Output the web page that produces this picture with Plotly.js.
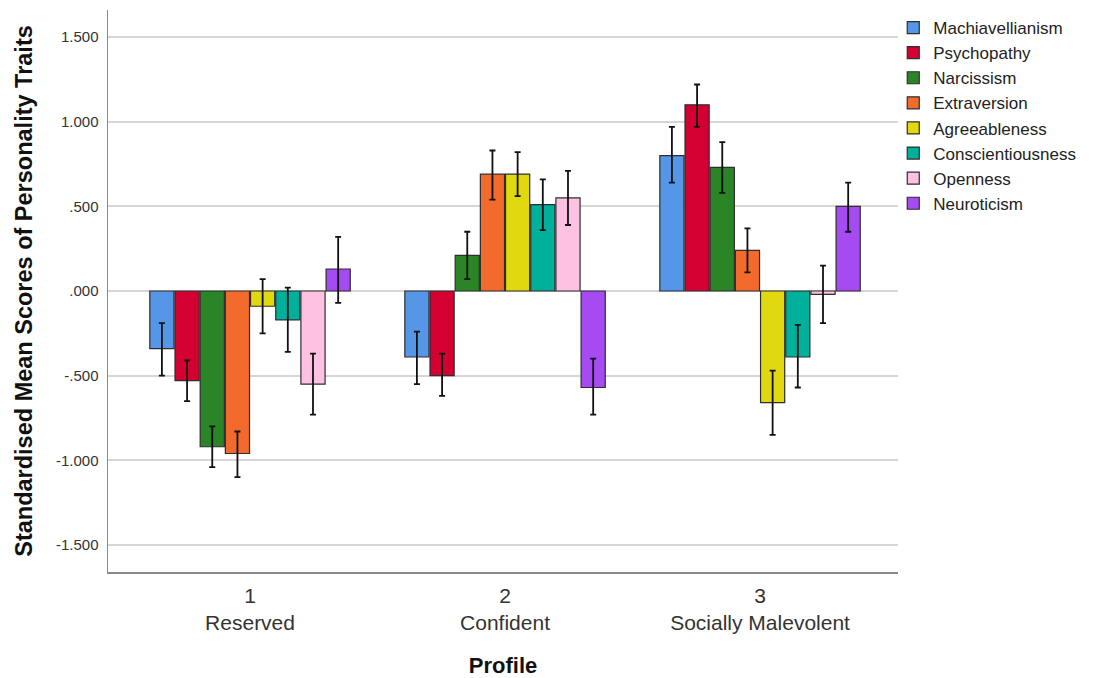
<!DOCTYPE html>
<html>
<head>
<meta charset="utf-8">
<script src="https://cdn.plot.ly/plotly-3.0.1.min.js"></script>
<style>html,body{margin:0;padding:0;background:#fff;}#chart{width:1095px;height:678px;}</style>
</head>
<body>
<div id="chart"></div>
<script>
const profiles = ['1<br>Reserved', '2<br>Confident', '3<br>Socially Malevolent'];
const traits = ['Machiavellianism','Psychopathy','Narcissism','Extraversion','Agreeableness','Conscientiousness','Openness','Neuroticism'];
const colors = ['#5596e6','#d50032','#2b8527','#f26a2c','#e2d80f','#00b09b','#ffc1e1','#a64af2'];

// mean per trait, for profiles 1,2,3
const machiavellianism  = [-0.34, -0.39,  0.80];
const psychopathy       = [-0.53, -0.50,  1.10];
const narcissism        = [-0.92,  0.21,  0.73];
const extraversion      = [-0.96,  0.69,  0.24];
const agreeableness     = [-0.09,  0.69, -0.66];
const conscientiousness = [-0.17,  0.51, -0.39];
const openness          = [-0.55,  0.55, -0.02];
const neuroticism       = [ 0.13, -0.57,  0.50];

// 95% CI lower / upper bounds
const machLow  = [-0.50, -0.55,  0.64], machHigh  = [-0.19, -0.24,  0.97];
const psyLow   = [-0.65, -0.62,  0.97], psyHigh   = [-0.41, -0.37,  1.22];
const narcLow  = [-1.04,  0.07,  0.58], narcHigh  = [-0.80,  0.35,  0.88];
const extLow   = [-1.10,  0.54,  0.11], extHigh   = [-0.83,  0.83,  0.37];
const agrLow   = [-0.25,  0.56, -0.85], agrHigh   = [ 0.07,  0.82, -0.47];
const conLow   = [-0.36,  0.36, -0.57], conHigh   = [ 0.02,  0.66, -0.20];
const opnLow   = [-0.73,  0.39, -0.19], opnHigh   = [-0.37,  0.71,  0.15];
const neuLow   = [-0.07, -0.73,  0.35], neuHigh   = [ 0.32, -0.40,  0.64];

const means = [machiavellianism, psychopathy, narcissism, extraversion, agreeableness, conscientiousness, openness, neuroticism];
const lows  = [machLow, psyLow, narcLow, extLow, agrLow, conLow, opnLow, neuLow];
const highs = [machHigh, psyHigh, narcHigh, extHigh, agrHigh, conHigh, opnHigh, neuHigh];

const yTickVals = [-1.5, -1.0, -0.5, 0, 0.5, 1.0, 1.5];
const yTickText = ['-1.500', '-1.000', '-.500', '.000', '.500', '1.000', '1.500'];

const traces = traits.map((t, i) => ({
  type: 'bar',
  name: t,
  x: profiles,
  y: means[i],
  marker: {color: colors[i], line: {color: '#2e2e2e', width: 1.2}},
  error_y: {
    type: 'data', symmetric: false,
    array: highs[i].map((h, k) => h - means[i][k]),
    arrayminus: lows[i].map((l, k) => means[i][k] - l),
    color: '#111111', thickness: 1.8, width: 3
  }
}));

const layout = {
  width: 1095, height: 678,
  margin: {l: 108, r: 197, t: 10, b: 106},
  paper_bgcolor: '#ffffff', plot_bgcolor: '#ffffff',
  barmode: 'group', bargap: 0.21, bargroupgap: 0.04,
  font: {family: 'Liberation Sans, Arial, sans-serif', color: '#222222'},
  showlegend: true,
  legend: {x: 0.994, xanchor: 'left', y: 1.0, yanchor: 'top', font: {size: 17, color: '#222'}, tracegroupgap: 0, bgcolor: 'rgba(0,0,0,0)'},
  xaxis: {
    type: 'category', range: [-0.557, 2.541],
    showline: true, linecolor: '#888888', linewidth: 1.5, mirror: false,
    showgrid: false, ticks: '', ticklabelstandoff: 4,
    tickfont: {size: 21, color: '#333333'},
    title: {text: 'Profile', font: {size: 22, color: '#111111', weight: 'bold'}, standoff: 32},
    zeroline: false, automargin: false
  },
  yaxis: {
    range: [-1.66, 1.66],
    tickvals: yTickVals, ticktext: yTickText,
    showline: true, linecolor: '#888888', linewidth: 1.5,
    showgrid: true, gridcolor: '#d6d6d6', gridwidth: 2,
    zeroline: false, ticks: '', ticklabelstandoff: 5,
    tickfont: {size: 15, color: '#333333'},
    title: {text: 'Standardised Mean Scores of Personality Traits', font: {size: 23.5, color: '#111111', weight: 'bold'}, standoff: 16},
    automargin: false
  }
};

Plotly.newPlot('chart', traces, layout, {displayModeBar: false, staticPlot: true});
</script>
</body>
</html>
